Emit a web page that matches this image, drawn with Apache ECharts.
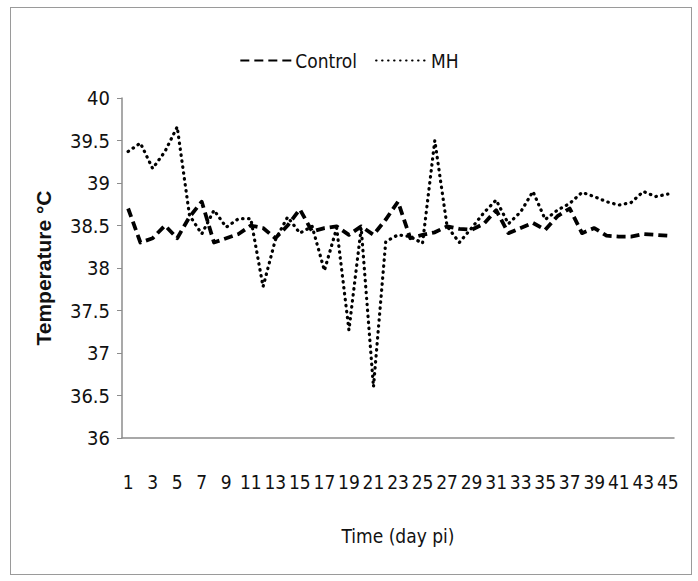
<!DOCTYPE html>
<html>
<head>
<meta charset="utf-8">
<script src="https://cdn.jsdelivr.net/npm/echarts@6/dist/echarts.min.js"></script>
<style>
html,body{margin:0;padding:0;background:#fff;}
#frame{position:absolute;left:10px;top:7px;width:682px;height:568px;border:1px solid #9a9a9a;box-sizing:border-box;}
#chart{position:absolute;left:0;top:0;width:698px;height:581px;}
#chart text{font-stretch:condensed;}
</style>
</head>
<body>
<div id="frame"></div>
<div id="chart"></div>
<script>
const days = [];
for (let d = 1; d <= 45; d++) days.push(String(d));

const controlTemp = [38.7, 38.3, 38.35, 38.5, 38.35, 38.6, 38.78, 38.3, 38.35, 38.4,
  38.5, 38.47, 38.35, 38.5, 38.69, 38.43, 38.47, 38.49, 38.39, 38.49,
  38.39, 38.57, 38.78, 38.35, 38.39, 38.42, 38.49, 38.46, 38.45, 38.52,
  38.68, 38.41, 38.47, 38.53, 38.45, 38.61, 38.7, 38.41, 38.47, 38.38,
  38.37, 38.37, 38.4, 38.39, 38.38];

const mhTemp = [39.37, 39.47, 39.17, 39.37, 39.66, 38.62, 38.4, 38.68, 38.48, 38.58,
  38.58, 37.78, 38.33, 38.6, 38.41, 38.49, 37.97, 38.47, 37.27, 38.47,
  36.6, 38.31, 38.39, 38.37, 38.29, 39.5, 38.49, 38.3, 38.47, 38.65,
  38.8, 38.52, 38.66, 38.9, 38.57, 38.68, 38.76, 38.89, 38.84, 38.78,
  38.74, 38.77, 38.9, 38.84, 38.87];

const yTicks = {min: 36, max: 40, interval: 0.5};

const narrow = "'DejaVu Sans Condensed', 'DejaVu Sans', sans-serif";

const chart = echarts.init(document.getElementById('chart'), null, {renderer: 'svg'});
chart.setOption({
  animation: false,
  backgroundColor: 'transparent',
  legend: {
    top: 46,
    left: 'center',
    itemWidth: 54,
    itemHeight: 14,
    itemGap: 18,
    itemStyle: {opacity: 0},
    textStyle: {fontFamily: narrow, fontSize: 19, color: '#111', padding: [0, 0, 0, -4]},
    data: ['Control', 'MH']
  },
  grid: {left: 122, right: 24, top: 98, bottom: 143},
  xAxis: {
    type: 'category',
    data: days,
    boundaryGap: true,
    name: 'Time (day pi)',
    nameLocation: 'middle',
    nameGap: 88,
    nameTextStyle: {fontFamily: narrow, fontSize: 19, color: '#111'},
    axisLine: {lineStyle: {color: '#8c8c8c', width: 1.5}},
    axisTick: {show: false},
    axisLabel: {interval: 1, margin: 34, fontFamily: narrow, fontSize: 19, color: '#111'}
  },
  yAxis: {
    type: 'value',
    min: yTicks.min,
    max: yTicks.max,
    interval: yTicks.interval,
    name: 'Temperature °C',
    nameLocation: 'middle',
    nameGap: 68,
    nameTextStyle: {fontFamily: "'Liberation Sans', Arial, sans-serif", fontWeight: 'bold', fontSize: 21, color: '#111'},
    axisLine: {show: true, lineStyle: {color: '#8c8c8c', width: 1.5}},
    axisTick: {show: true, inside: false, length: 5, lineStyle: {color: '#8c8c8c'}},
    splitLine: {show: false},
    axisLabel: {margin: 12, fontFamily: narrow, fontSize: 20, color: '#111'}
  },
  series: [
    {
      name: 'Control',
      type: 'line',
      data: controlTemp,
      symbol: 'none',
      lineStyle: {color: '#000', width: 3.8, type: [9, 5], cap: 'butt', join: 'round'},
      itemStyle: {color: '#000'}
    },
    {
      name: 'MH',
      type: 'line',
      data: mhTemp,
      symbol: 'none',
      lineStyle: {color: '#000', width: 3.2, type: [0.5, 5.5], cap: 'round', join: 'round'},
      itemStyle: {color: '#000'}
    }
  ]
});
</script>
</body>
</html>
